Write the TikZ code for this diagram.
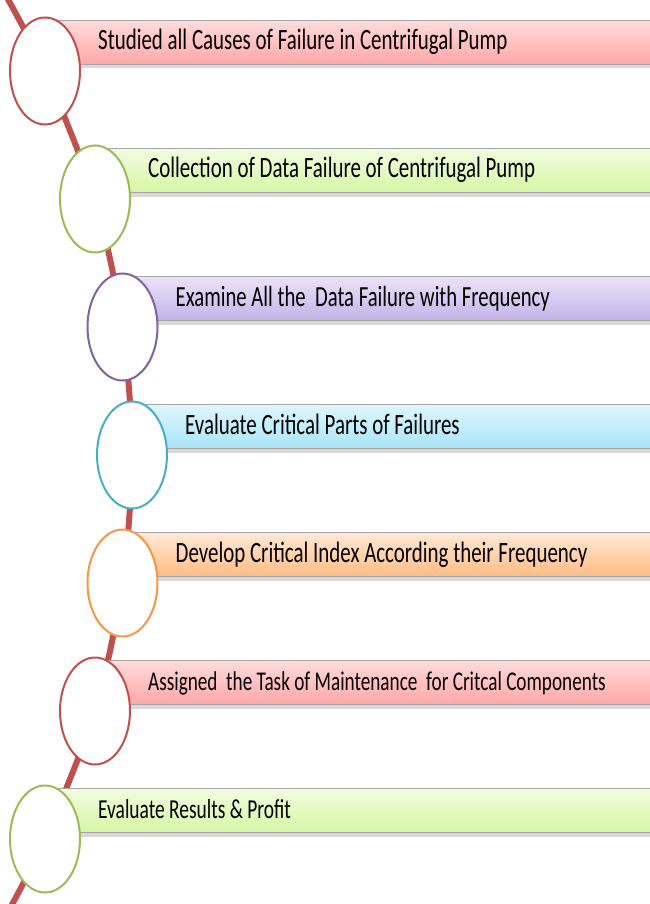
\documentclass[tikz,border=0pt]{standalone}
\usepackage{fontspec}
\setmainfont{Carlito}
\usepackage{tikz}
\usetikzlibrary{shapes.geometric,shadows}

\definecolor{redline}{HTML}{C0504D}
\definecolor{redtop}{HTML}{FFDCDC}
\definecolor{redbot}{HTML}{FFA6A6}
\definecolor{greenline}{HTML}{9BBB59}
\definecolor{greentop}{HTML}{F2FCE0}
\definecolor{greenbot}{HTML}{D6F6A4}
\definecolor{purpleline}{HTML}{8064A2}
\definecolor{purpletop}{HTML}{EAE4F8}
\definecolor{purplebot}{HTML}{C2B3E8}
\definecolor{blueline}{HTML}{4BACC6}
\definecolor{bluetop}{HTML}{DFF6FD}
\definecolor{bluebot}{HTML}{A8E5F8}
\definecolor{orangeline}{HTML}{F79646}
\definecolor{orangetop}{HTML}{FFE9D6}
\definecolor{orangebot}{HTML}{FFBC84}

\newcommand{\narrow}[1]{\scalebox{.709}[1]{#1}}

\tikzset{
  spine/.style={draw=redline, line width=6pt},
  bar/.style={rectangle, draw=gray!70, line width=1pt,
    top color=#1top, bottom color=#1bot,
    minimum width=620pt, minimum height=44pt, anchor=north west,
    drop shadow={shadow xshift=0pt, shadow yshift=-4pt, opacity=.3}},
  ring/.style={ellipse, draw=#1line, line width=2pt, fill=white,
    minimum width=70pt, minimum height=107pt, inner sep=0pt},
  steplabel/.style={font=\fontsize{#1}{30}\selectfont, anchor=base west,
    inner sep=0pt}
}

\begin{document}
\begin{tikzpicture}[x=1pt,y=-1pt]
\useasboundingbox (0,0) rectangle (649,904);

% centres of the circles along the spine
\foreach \i/\cx in {1/45, 2/95, 3/122.5, 4/132, 5/122.5, 6/95, 7/45}
    \coordinate (c\i) at (\cx,{71+128*(\i-1)});
\coordinate (top) at (5,-6);
\coordinate (bot) at (9,910);

\draw[spine] plot[smooth] coordinates {(top) (c1) (c2) (c3) (c4) (c5) (c6) (c7) (bot)};

% one bar and one circle per step
\foreach \i/\col/\fs/\txt in {
    1/red/29.5/Studied all Causes of Failure in Centrifugal Pump,
    2/green/29.5/Collection of Data Failure of Centrifugal Pump,
    3/purple/29.2/Examine All the\ \ Data Failure with Frequency,
    4/blue/29.5/Evaluate Critical Parts of Failures,
    5/orange/29.5/Develop Critical Index According their Frequency,
    6/red/27.1/Assigned\ \ the Task of Maintenance\ \ for Critcal Components,
    7/green/27.4/Evaluate Results \& Profit}
{
    \node[bar=\col, yshift=51pt] (b\i) at (c\i) {};
    \node[steplabel=\fs, xshift=53pt, yshift=21pt] (t\i) at (c\i) {\narrow{\txt}};
    \node[ring=\col] (e\i) at (c\i) {};
}
\end{tikzpicture}
\end{document}
